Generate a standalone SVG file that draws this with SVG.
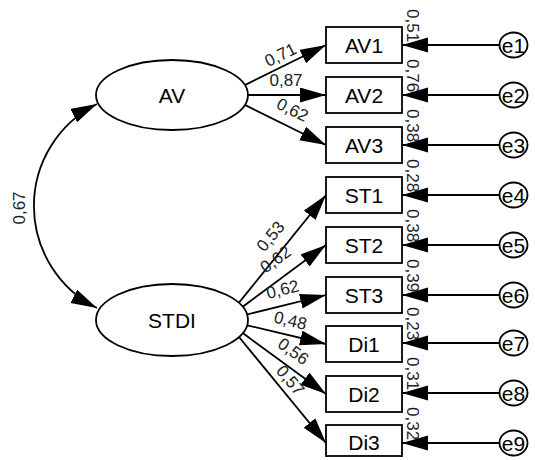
<svg xmlns="http://www.w3.org/2000/svg" width="535" height="460" viewBox="0 0 535 460">
<style>
.n{fill:#fff;stroke:#000;stroke-width:1.8}
.t{font-family:"Liberation Sans",Arial,sans-serif;font-size:21px;fill:#000;text-anchor:middle}
.te{font-family:"Liberation Sans",Arial,sans-serif;font-size:21px;fill:#000;text-anchor:middle}
.l{font-family:"Liberation Sans",Arial,sans-serif;font-size:17px;fill:#222;text-anchor:middle}
.lr{font-family:"Liberation Sans",Arial,sans-serif;font-size:17px;fill:#222;text-anchor:start}
.c{fill:none;stroke:#000;stroke-width:1.8;marker-end:url(#ah)}
</style>
<defs>
<marker id="ah" markerUnits="userSpaceOnUse" markerWidth="27" markerHeight="16" refX="26" refY="7.5" orient="auto-start-reverse">
<path d="M0,0 L26,7.5 L0,15 z" fill="#000"/>
</marker>
</defs>
<rect width="535" height="460" fill="#fff"/>
<g id="connectors">
<path class="c" d="M97,104 A114,114 0 0,0 97,308" style="marker-start:url(#ah)"/>
<line class="c" x1="244.9" y1="85.1" x2="326" y2="45"/>
<line class="c" x1="248" y1="95" x2="326" y2="95"/>
<line class="c" x1="244.9" y1="104.9" x2="326" y2="145"/>
<line class="c" x1="238.8" y1="302.9" x2="326" y2="195"/>
<line class="c" x1="242.7" y1="306.8" x2="326" y2="245"/>
<line class="c" x1="247.1" y1="314.5" x2="326" y2="295"/>
<line class="c" x1="247.2" y1="325.3" x2="326" y2="344"/>
<line class="c" x1="242.8" y1="333.1" x2="326" y2="394"/>
<line class="c" x1="239" y1="337" x2="326" y2="443"/>
<line class="c" x1="499.5" y1="45" x2="402" y2="45"/>
<line class="c" x1="499.5" y1="95" x2="402" y2="95"/>
<line class="c" x1="499.5" y1="145" x2="402" y2="145"/>
<line class="c" x1="499.5" y1="195" x2="402" y2="195"/>
<line class="c" x1="499.5" y1="245" x2="402" y2="245"/>
<line class="c" x1="499.5" y1="295" x2="402" y2="295"/>
<line class="c" x1="499.5" y1="343" x2="402" y2="343"/>
<line class="c" x1="499.5" y1="393" x2="402" y2="393"/>
<line class="c" x1="499.5" y1="443" x2="402" y2="443"/>
<text class="l" transform="translate(25,208) rotate(-90)">0,67</text>
<text class="l" transform="translate(283,60) rotate(-26)">0,71</text>
<text class="l" transform="translate(286,86)">0,87</text>
<text class="l" transform="translate(290,115) rotate(26)">0,62</text>
<text class="l" transform="translate(275,240) rotate(-50)">0,53</text>
<text class="l" transform="translate(279,264) rotate(-36)">0,62</text>
<text class="l" transform="translate(284,295) rotate(-14)">0,62</text>
<text class="l" transform="translate(289,326) rotate(13.5)">0,48</text>
<text class="l" transform="translate(290,356) rotate(36)">0,56</text>
<text class="l" transform="translate(286,384) rotate(50)">0,57</text>
<text class="lr" transform="translate(407,9) rotate(90)">0,51</text>
<text class="lr" transform="translate(407,59) rotate(90)">0,76</text>
<text class="lr" transform="translate(407,109) rotate(90)">0,38</text>
<text class="lr" transform="translate(407,159) rotate(90)">0,28</text>
<text class="lr" transform="translate(407,209) rotate(90)">0,38</text>
<text class="lr" transform="translate(407,259) rotate(90)">0,39</text>
<text class="lr" transform="translate(407,307) rotate(90)">0,23</text>
<text class="lr" transform="translate(407,357) rotate(90)">0,31</text>
<text class="lr" transform="translate(407,407) rotate(90)">0,32</text>
</g>
<g id="AV"><ellipse class="n" cx="172" cy="95" rx="76" ry="35"/><text class="t" x="172" y="103">AV</text></g>
<g id="STDI"><ellipse class="n" cx="172" cy="320" rx="76" ry="36"/><text class="t" x="172" y="328">STDI</text></g>
<g id="AV1"><rect class="n" x="326" y="27" width="76" height="36"/><text class="t" x="364" y="53">AV1</text></g>
<g id="AV2"><rect class="n" x="326" y="77" width="76" height="36"/><text class="t" x="364" y="103">AV2</text></g>
<g id="AV3"><rect class="n" x="326" y="127" width="76" height="36"/><text class="t" x="364" y="153">AV3</text></g>
<g id="ST1"><rect class="n" x="326" y="177" width="76" height="36"/><text class="t" x="364" y="203">ST1</text></g>
<g id="ST2"><rect class="n" x="326" y="227" width="76" height="36"/><text class="t" x="364" y="253">ST2</text></g>
<g id="ST3"><rect class="n" x="326" y="277" width="76" height="36"/><text class="t" x="364" y="303">ST3</text></g>
<g id="Di1"><rect class="n" x="326" y="326" width="76" height="36"/><text class="t" x="364" y="352">Di1</text></g>
<g id="Di2"><rect class="n" x="326" y="376" width="76" height="36"/><text class="t" x="364" y="402">Di2</text></g>
<g id="Di3"><rect class="n" x="326" y="425" width="76" height="31"/><text class="t" x="364" y="450">Di3</text></g>
<g id="e1"><ellipse class="n" cx="513.5" cy="45" rx="14" ry="12.5"/><text class="te" x="513.5" y="52.5">e1</text></g>
<g id="e2"><ellipse class="n" cx="513.5" cy="95" rx="14" ry="12.5"/><text class="te" x="513.5" y="102.5">e2</text></g>
<g id="e3"><ellipse class="n" cx="513.5" cy="145" rx="14" ry="12.5"/><text class="te" x="513.5" y="152.5">e3</text></g>
<g id="e4"><ellipse class="n" cx="513.5" cy="195" rx="14" ry="12.5"/><text class="te" x="513.5" y="202.5">e4</text></g>
<g id="e5"><ellipse class="n" cx="513.5" cy="245" rx="14" ry="12.5"/><text class="te" x="513.5" y="252.5">e5</text></g>
<g id="e6"><ellipse class="n" cx="513.5" cy="295" rx="14" ry="12.5"/><text class="te" x="513.5" y="302.5">e6</text></g>
<g id="e7"><ellipse class="n" cx="513.5" cy="343" rx="14" ry="12.5"/><text class="te" x="513.5" y="350.5">e7</text></g>
<g id="e8"><ellipse class="n" cx="513.5" cy="393" rx="14" ry="12.5"/><text class="te" x="513.5" y="400.5">e8</text></g>
<g id="e9"><ellipse class="n" cx="513.5" cy="443" rx="14" ry="12.5"/><text class="te" x="513.5" y="450.5">e9</text></g>
</svg>
